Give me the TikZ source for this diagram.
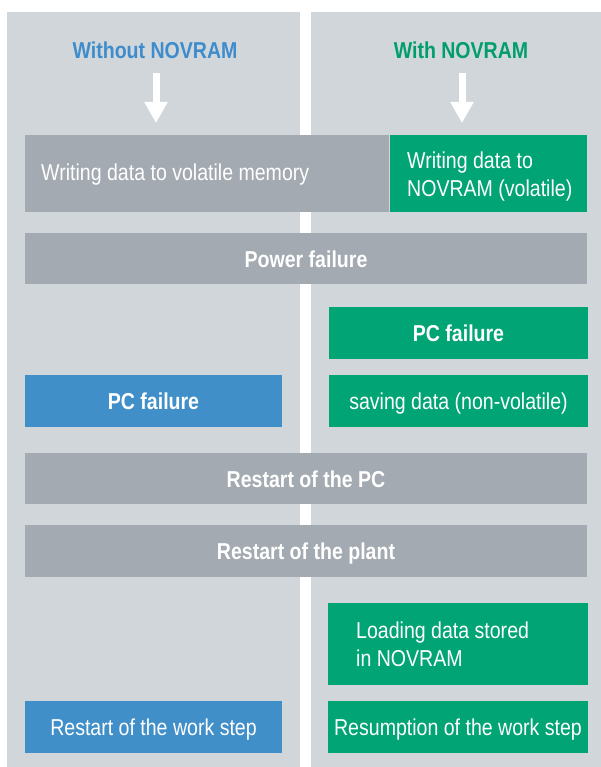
\documentclass[tikz,border=0pt]{standalone}
\usepackage{fontspec}
\setmainfont{Liberation Sans}[FakeStretch=0.85]
\usetikzlibrary{arrows.meta}
\definecolor{panelgray}{RGB}{209,214,218}
\definecolor{boxgray}{RGB}{164,170,177}
\definecolor{boxgreen}{RGB}{0,164,117}
\definecolor{boxblue}{RGB}{65,143,201}
\definecolor{titleblue}{RGB}{62,140,204}
\definecolor{titlegreen}{RGB}{0,158,108}
\tikzset{
  txt/.style={text=white, font=\fontsize{23}{27.6}\selectfont, inner sep=0pt, align=left},
  onetxt/.style={text=white, font=\fontsize{23}{27.6}\selectfont, text height=17pt, text depth=0pt},
  boldtxt/.style={text=white, font=\fontsize{23}{27.6}\selectfont\bfseries, text height=17pt, text depth=0pt},
  stepbox/.style={inner sep=0pt, outer sep=0pt, draw=none},
  graybox/.style={stepbox, fill=boxgray},
  greenbox/.style={stepbox, fill=boxgreen},
  bluebox/.style={stepbox, fill=boxblue},
  flowarrow/.style={white, line width=7pt, -{Triangle[width=22pt,length=21pt]}},
}
\begin{document}
\begin{tikzpicture}[x=1pt,y=-1pt]
\useasboundingbox (0,0) rectangle (601,767);
\fill[white] (0,0) rectangle (601,767);
% panels
\fill[panelgray] (7,12) rectangle (300,767);
\fill[panelgray] (311,12) rectangle (601,767);
% titles
\node[font=\fontsize{23}{27.6}\selectfont\bfseries, text=titleblue] (tl) at (155,50) {Without NOVRAM};
\node[font=\fontsize{23}{27.6}\selectfont\bfseries, text=titlegreen] (tr) at (461,50) {With NOVRAM};
\coordinate (la0) at (156,73);
\coordinate (la1) at (156,123);
\coordinate (ra0) at (462,73);
\coordinate (ra1) at (462,123);
\draw[flowarrow] (la0) -- (la1);
\draw[flowarrow] (ra0) -- (ra1);
% row 1
\node[graybox, minimum width=364, minimum height=77] (wvol) at (207,173.5) {};
\node[txt, anchor=west] (wvolt) at ([xshift=16pt,yshift=-1.5pt]wvol.west) {Writing data to volatile memory};
\node[greenbox, minimum width=197, minimum height=77] (wnov) at (488.5,173.5) {};
\node[txt, anchor=west] (wnovt) at ([xshift=17pt,yshift=-3pt]wnov.west) {Writing data to\\NOVRAM (volatile)};
% power failure
\node[graybox, minimum width=562, minimum height=51, boldtxt] (power) at (306,258.5) {Power failure};
% PC failure rows
\node[greenbox, minimum width=259, minimum height=52, boldtxt] (pcg) at (458.5,333) {PC failure};
\node[bluebox, minimum width=257, minimum height=52, boldtxt] (pcb) at (153.5,401) {PC failure};
\node[greenbox, minimum width=259, minimum height=52, onetxt] (save) at (458.5,401) {saving data (non-volatile)};
% restarts
\node[graybox, minimum width=562, minimum height=51, boldtxt] (rpc) at (306,478.5) {Restart of the PC};
\node[graybox, minimum width=562, minimum height=52, boldtxt] (rplant) at (306,551) {Restart of the plant};
% loading
\node[greenbox, minimum width=260, minimum height=82] (load) at (458,644) {};
\node[txt, anchor=west] (loadt) at ([xshift=28pt,yshift=0pt]load.west) {Loading data stored\\in NOVRAM};
% last row
\node[bluebox, minimum width=257, minimum height=52, onetxt] (rws) at (153.5,727) {Restart of the work step};
\node[greenbox, minimum width=260, minimum height=52, onetxt] (resume) at (458,727) {Resumption of the work step};
\end{tikzpicture}
\end{document}
